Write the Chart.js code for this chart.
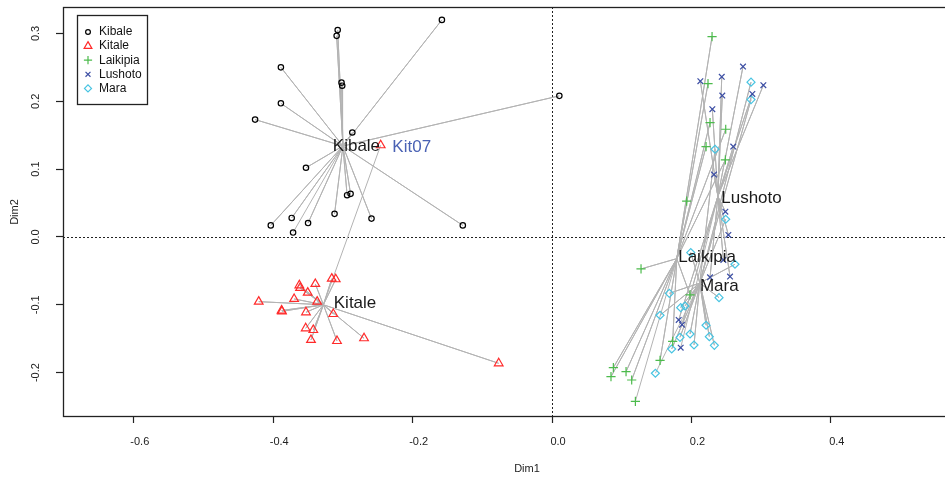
<!DOCTYPE html>
<html lang="en">
<head>
  <meta charset="UTF-8" />
  <title>Dim1 / Dim2</title>
  <script src="https://cdn.jsdelivr.net/npm/chart.js"></script>
  <style>
    html, body { margin: 0; padding: 0; background: #fff; }
    .wrap { position: relative; width: 945px; height: 477px; }
  </style>
</head>
<body>
  <div class="wrap"><canvas id="plot"></canvas></div>

  <script>
    // groups and their samples (Dim1, Dim2)
    const groups = ['Kibale', 'Kitale', 'Laikipia', 'Lushoto', 'Mara'];

    const kibaleX = [-0.3075, -0.309, -0.158, -0.389, -0.302, -0.301, -0.389, -0.426, -0.2865, 0.0105,
                     -0.353, -0.294, -0.289, -0.312, -0.259, -0.128, -0.3735, -0.350, -0.4035, -0.3715];
    const kibaleY = [0.305, 0.2965, 0.320, 0.250, 0.2275, 0.223, 0.197, 0.173, 0.154, 0.208,
                     0.102, 0.0615, 0.0635, 0.034, 0.027, 0.017, 0.028, 0.0205, 0.017, 0.0065];

    const kitaleX = [-0.4208, -0.388, -0.3875, -0.370, -0.3625, -0.3615, -0.3505, -0.3396, -0.316, -0.3103,
                     -0.353, -0.3138, -0.3534, -0.3425, -0.3458, -0.3085, -0.2697, -0.337, -0.0765, -0.2458];
    const kitaleY = [-0.0954, -0.1085, -0.1097, -0.0914, -0.0713, -0.0752, -0.0821, -0.0693, -0.0615, -0.0624,
                     -0.1111, -0.1136, -0.1347, -0.1372, -0.1519, -0.1534, -0.1494, -0.0954, -0.1863, 0.1352];

    const laikipiaX = [0.2296, 0.2238, 0.2267, 0.2492, 0.221, 0.2487, 0.1932, 0.1277, 0.198, 0.1731,
                       0.155, 0.088, 0.0846, 0.1062, 0.1143, 0.1196];
    const laikipiaY = [0.2954, 0.2261, 0.1686, 0.1588, 0.1332, 0.1136, 0.0527, -0.0472, -0.0855, -0.1539,
                       -0.1819, -0.1927, -0.206, -0.1986, -0.2109, -0.2423];

    const lushotoX = [0.2128, 0.2435, 0.274, 0.3032, 0.2443, 0.2874, 0.230, 0.260, 0.2324, 0.2487,
                      0.253, 0.2458, 0.2267, 0.2554, 0.1817, 0.1865, 0.1846];
    const lushotoY = [0.2296, 0.236, 0.2512, 0.2237, 0.2084, 0.2109, 0.1883, 0.1332, 0.0919, 0.0373,
                      0.003, -0.0339, -0.0595, -0.0585, -0.1224, -0.1293, -0.1632];

    const maraX = [0.2855, 0.2855, 0.2339, 0.2492, 0.199, 0.2625, 0.2396, 0.1683, 0.1846, 0.1908,
                   0.155, 0.221, 0.198, 0.1836, 0.2257, 0.1717, 0.2037, 0.2329, 0.1483];
    const maraY = [0.2282, 0.2025, 0.1293, 0.0261, -0.0231, -0.0403, -0.0895, -0.0831, -0.1043, -0.1018,
                   -0.1155, -0.1302, -0.1431, -0.148, -0.147, -0.1652, -0.1593, -0.1598, -0.201];

    // group centres (where the spokes meet)
    const centreX = [-0.300, -0.328, 0.179, 0.238, 0.212];
    const centreY = [0.134, -0.100, -0.032, 0.060, -0.068];

    // where the group names sit
    const nameX = [-0.2806, -0.2826, 0.2224, 0.2862, 0.240];
    const nameY = [0.1342, -0.0973, -0.0295, 0.0575, -0.0723];

    // the one sample named on the plot
    const outlierName = 'Kit07';
    const outlierX = -0.2013;
    const outlierY = 0.1327;

    const xTicks = [-0.6, -0.4, -0.2, 0.0, 0.2, 0.4];
    const yTicks = [-0.2, -0.1, 0.0, 0.1, 0.2, 0.3];

    const sampleX = [kibaleX, kitaleX, laikipiaX, lushotoX, maraX];
    const sampleY = [kibaleY, kitaleY, laikipiaY, lushotoY, maraY];

    const colors = ['#000000', '#ff2a2a', '#4cbb4c', '#3b4da3', '#47c4e2'];
    const shapes = ['circle', 'triangle', 'cross', 'crossRot', 'rectRot'];
    const radii = [2.7, 5, 4.6, 4, 4];

    const FONT = "'Liberation Sans', Arial, sans-serif";
    const NARROW = "'Liberation Sans Narrow', 'Liberation Sans', Arial, sans-serif";

    function spokes(cx, cy, xs, ys) {
      const out = [];
      xs.forEach((x, i) => {
        out.push({ x: cx, y: cy });
        out.push({ x: x, y: ys[i] });
      });
      return out;
    }

    const datasets = [];
    groups.forEach((g, i) => {
      datasets.push({
        label: g + ' spokes',
        data: spokes(centreX[i], centreY[i], sampleX[i], sampleY[i]),
        showLine: true,
        borderColor: '#b3b3b3',
        borderWidth: 1,
        borderJoinStyle: 'round',
        pointRadius: 0,
        fill: false,
        tension: 0,
        order: 5
      });
    });
    groups.forEach((g, i) => {
      datasets.push({
        label: g,
        data: sampleX[i].map((x, j) => ({ x: x, y: sampleY[i][j] })),
        showLine: false,
        pointStyle: shapes[i],
        pointRadius: radii[i],
        pointBorderColor: colors[i],
        pointBackgroundColor: 'rgba(0,0,0,0)',
        pointBorderWidth: 1.2,
        order: 1
      });
    });

    // dotted zero lines, plot box, names and legend
    const decorations = {
      id: 'decorations',
      beforeDatasetsDraw(chart) {
        const { ctx, chartArea: a, scales: { x, y } } = chart;
        const x0 = Math.round(x.getPixelForValue(0)) + 0.5;
        const y0 = Math.round(y.getPixelForValue(0)) + 0.5;
        ctx.save();
        ctx.strokeStyle = '#222';
        ctx.lineWidth = 1;
        ctx.setLineDash([2, 2]);
        ctx.beginPath();
        ctx.moveTo(x0, a.top);
        ctx.lineTo(x0, a.bottom);
        ctx.moveTo(a.left, y0);
        ctx.lineTo(a.right, y0);
        ctx.stroke();
        ctx.restore();
      },
      afterDraw(chart) {
        const { ctx, chartArea: a, scales: { x, y } } = chart;
        ctx.save();

        // box (right side runs off the page like in the original)
        ctx.strokeStyle = '#222';
        ctx.lineWidth = 1.3;
        ctx.strokeRect(a.left + 0.5, a.top + 0.5, a.right - a.left + 20, a.bottom - a.top);

        // group names
        ctx.font = '17px ' + FONT;
        ctx.textAlign = 'center';
        ctx.textBaseline = 'middle';
        ctx.fillStyle = '#1a1a1a';
        groups.forEach((g, i) => {
          ctx.fillText(g, x.getPixelForValue(nameX[i]), y.getPixelForValue(nameY[i]));
        });
        ctx.fillStyle = '#4a62b4';
        ctx.fillText(outlierName, x.getPixelForValue(outlierX), y.getPixelForValue(outlierY));

        // axis titles
        ctx.font = '11px ' + NARROW;
        ctx.fillStyle = '#222';
        ctx.fillText('Dim1', 527, 469);
        ctx.save();
        ctx.translate(15, 212);
        ctx.rotate(-Math.PI / 2);
        ctx.fillText('Dim2', 0, 0);
        ctx.restore();

        // legend
        const lx = 77, ly = 15, lw = 70, lh = 89;
        ctx.fillStyle = '#fff';
        ctx.fillRect(lx, ly, lw, lh);
        ctx.strokeStyle = '#222';
        ctx.lineWidth = 1.3;
        ctx.strokeRect(lx + 0.5, ly + 0.5, lw, lh);
        ctx.font = '12px ' + FONT;
        ctx.textAlign = 'left';
        groups.forEach((g, i) => {
          const yy = ly + 17 + i * 14.1;
          ctx.strokeStyle = colors[i];
          ctx.fillStyle = 'rgba(0,0,0,0)';
          ctx.lineWidth = 1.2;
          Chart.helpers.drawPoint(ctx, {
            pointStyle: shapes[i],
            radius: i === 0 ? 2.4 : radii[i] - 0.5,
            rotation: 0,
            borderWidth: 1.2
          }, lx + 11, yy);
          ctx.fillStyle = '#111';
          ctx.fillText(g, lx + 22, yy);
        });

        ctx.restore();
      }
    };

    new Chart(document.getElementById('plot'), {
      type: 'scatter',
      data: { datasets },
      options: {
        responsive: true,
        maintainAspectRatio: false,
        animation: false,
        events: [],
        layout: { autoPadding: false, padding: { top: 7, right: 0, left: 0, bottom: 0 } },
        plugins: {
          legend: { display: false },
          tooltip: { enabled: false }
        },
        scales: {
          x: {
            type: 'linear',
            min: -0.7016,
            max: 0.5638,
            afterBuildTicks: s => { s.ticks = xTicks.map(v => ({ value: v })); },
            afterFit: s => { s.height = 61; s.paddingLeft = 0; s.paddingRight = 0; },
            border: { display: false },
            grid: { drawOnChartArea: false, drawTicks: true, tickLength: 7, tickColor: '#222', tickWidth: 1.2 },
            ticks: {
              padding: 12,
              labelOffset: 6,
              color: '#222',
              font: { family: NARROW, size: 11 },
              maxRotation: 0,
              autoSkip: false,
              callback: v => v.toFixed(1)
            }
          },
          y: {
            type: 'linear',
            min: -0.264,
            max: 0.339,
            afterBuildTicks: s => { s.ticks = yTicks.map(v => ({ value: v })); },
            afterFit: s => { s.width = 63; s.paddingTop = 0; s.paddingBottom = 0; },
            border: { display: false },
            grid: { drawOnChartArea: false, drawTicks: true, tickLength: 7, tickColor: '#222', tickWidth: 1.2 },
            ticks: {
              padding: 11,
              color: '#222',
              font: { family: NARROW, size: 11 },
              minRotation: 90,
              maxRotation: 90,
              crossAlign: 'center',
              autoSkip: false,
              callback: v => v.toFixed(1)
            }
          }
        }
      },
      plugins: [decorations]
    });
  </script>
</body>
</html>
